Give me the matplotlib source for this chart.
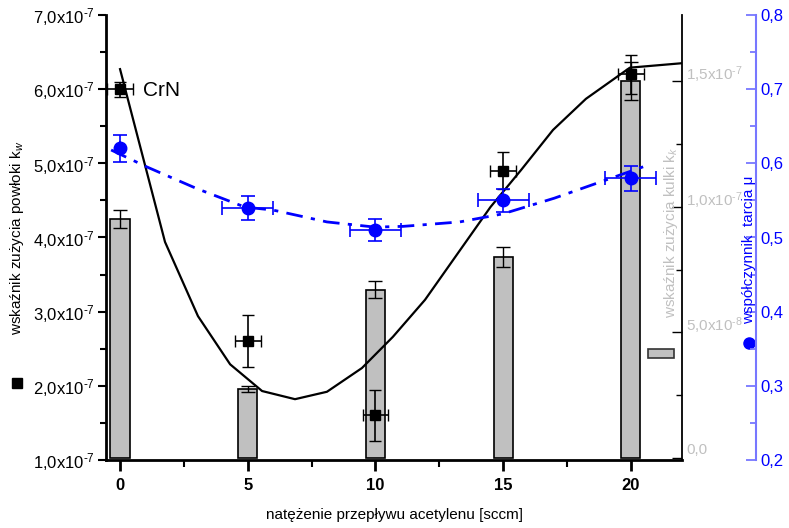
import matplotlib
matplotlib.use("Agg")
import matplotlib.pyplot as plt
from matplotlib.lines import Line2D
from matplotlib.patches import Rectangle
from matplotlib.transforms import ScaledTranslation

plt.rcParams['font.family'] = ['Liberation Sans', 'DejaVu Sans']
plt.rcParams['mathtext.fontset'] = 'custom'
plt.rcParams['mathtext.rm'] = 'Liberation Sans'
plt.rcParams['mathtext.it'] = 'Liberation Sans:italic'

# measured data
flow = [0, 5, 10, 15, 20]
flow_err = [0.5, 0.5, 0.5, 0.5, 0.5]
kw = [6.0e-7, 2.6e-7, 1.6e-7, 4.9e-7, 6.2e-7]
kw_err = [0.10e-7, 0.35e-7, 0.35e-7, 0.25e-7, 0.26e-7]
kk = [0.95e-7, 0.275e-7, 0.67e-7, 0.80e-7, 1.50e-7]
kk_err = [0.036e-7, 0.012e-7, 0.034e-7, 0.04e-7, 0.075e-7]
mu = [0.62, 0.54, 0.51, 0.55, 0.58]
mu_err = [0.018, 0.016, 0.015, 0.016, 0.017]
mu_xerr = [0, 1, 1, 1, 1]

# fitted curves
kw_fit_x = [0, 1.76, 3.05, 4.31, 5.56, 6.85, 8.10, 9.47, 10.68, 11.94, 13.23, 14.5, 15.7, 16.95, 18.24, 19.96, 22.0]
kw_fit_y = [6.27e-7, 3.94e-7, 2.94e-7, 2.29e-7, 1.93e-7, 1.82e-7, 1.92e-7, 2.24e-7, 2.66e-7, 3.16e-7,
            3.79e-7, 4.41e-7, 4.91e-7, 5.45e-7, 5.87e-7, 6.29e-7, 6.35e-7]
mu_fit_x = [-0.35, 1.06, 3.0, 4.89, 5.99, 8.10, 9.98, 11.08, 13.3, 15.0, 17.0, 19.06, 20.78]
mu_fit_y = [0.618, 0.595, 0.566, 0.541, 0.537, 0.521, 0.514, 0.515, 0.521, 0.532, 0.553, 0.578, 0.599]

left_ticks = [1e-7, 2e-7, 3e-7, 4e-7, 5e-7, 6e-7, 7e-7]
left_labels = [r'%d,0x10$^{\text{-7}}$' % i for i in range(1, 8)]
mid_ticks = [0, 5e-8, 1e-7, 1.5e-7]
mid_labels = ['0,0', r'5,0x10$^{\text{-8}}$', r'1,0x10$^{\text{-7}}$', r'1,5x10$^{\text{-7}}$']
mu_ticks = [0.2, 0.3, 0.4, 0.5, 0.6, 0.7, 0.8]
mu_labels = ['0,2', '0,3', '0,4', '0,5', '0,6', '0,7', '0,8']

W, H = 789, 528
fig = plt.figure(figsize=(W / 100, H / 100), dpi=100)
ax = fig.add_axes([106 / W, 1 - 460 / H, 576 / W, 445 / H])
ax2 = ax.twinx()
ax3 = ax.twinx()

# bars (ball wear) at the back
ax2.bar(flow, kk, width=0.75, color='#c0c0c0', edgecolor='black', linewidth=1.2, zorder=2)
ax2.errorbar(flow, kk, yerr=kk_err, fmt='none', ecolor='black', elinewidth=1, capsize=5, capthick=1, zorder=3)
ax2.set_ylim(-0.008e-7, 1.763e-7)
ax2.set_yticks(mid_ticks)
ax2.set_yticklabels(mid_labels)
ax2.set_yticks([2.5e-8, 7.5e-8, 12.5e-8], minor=True)
ax2.tick_params(axis='y', which='major', direction='in', length=7, width=1, colors='black',
                labelcolor='#c0c0c0', labelsize=11, pad=3)
ax2.tick_params(axis='y', which='minor', direction='in', length=4, width=1, colors='black')
for lab in ax2.get_yticklabels():
    lab.set_transform(lab.get_transform() + ScaledTranslation(0, 0.09, fig.dpi_scale_trans))
for s in ['top', 'left', 'bottom']:
    ax2.spines[s].set_visible(False)
ax2.spines['right'].set_linewidth(1.3)

# coating wear (left)
ax.set_zorder(ax2.get_zorder() + 1)
ax.patch.set_visible(False)
ax.plot(kw_fit_x, kw_fit_y, color='black', lw=1.6, zorder=3)
ax.errorbar(flow, kw, yerr=kw_err, xerr=flow_err, fmt='s', color='black', ms=7,
            ecolor='black', elinewidth=1.2, capsize=4, capthick=1, zorder=4)
ax.set_xlim(-0.55, 22)
ax.set_ylim(1e-7, 7e-7)
ax.set_yticks(left_ticks)
ax.set_yticklabels(left_labels)
ax.set_yticks([1.5e-7, 2.5e-7, 3.5e-7, 4.5e-7, 5.5e-7, 6.5e-7], minor=True)
ax.set_xticks([0, 5, 10, 15, 20])
ax.set_xticks([2.5, 7.5, 12.5, 17.5], minor=True)
ax.tick_params(axis='y', which='major', direction='out', length=6, width=1.5, labelsize=12, pad=2)
ax.tick_params(axis='y', which='minor', direction='out', length=4, width=1.5)
ax.tick_params(axis='x', which='major', direction='out', length=8, width=2, labelsize=12, pad=5)
ax.tick_params(axis='x', which='minor', direction='out', length=5, width=1.5)
for lab in ax.get_xticklabels():
    lab.set_fontweight('bold')
ax.spines['top'].set_visible(False)
ax.spines['right'].set_visible(False)
ax.spines['left'].set_linewidth(2)
ax.spines['bottom'].set_linewidth(2)
ax.set_xlabel('natężenie przepływu acetylenu [sccm]', fontsize=11, labelpad=11)
fig.text(143 / W, 1 - 90 / H, 'CrN', fontsize=15, va='center', ha='left')

# friction coefficient (blue, outer right)
ax3.set_zorder(ax.get_zorder() + 1)
ax3.patch.set_visible(False)
ax3.plot(mu_fit_x, mu_fit_y, color='#0000ff', lw=2, linestyle=(0, (6, 3, 1.5, 3)), zorder=3)
ax3.errorbar(flow, mu, yerr=mu_err, xerr=mu_xerr, fmt='o', color='#0000ff', ms=9,
             ecolor='#0000ff', elinewidth=1.2, capsize=5, capthick=1.2, zorder=4)
ax3.set_ylim(0.2, 0.8)
ax3.set_yticks(mu_ticks)
ax3.set_yticklabels(mu_labels)
ax3.set_yticks([0.25, 0.35, 0.45, 0.55, 0.65, 0.75], minor=True)
ax3.spines['right'].set_position(('axes', (756 - 106) / 576))
ax3.spines['right'].set_color('#7777ff')
ax3.spines['right'].set_linewidth(1.5)
for s in ['top', 'left', 'bottom']:
    ax3.spines[s].set_visible(False)
ax3.tick_params(axis='y', which='major', direction='in', length=7, width=1.3, colors='#7777ff',
                labelcolor='#0000ff', labelsize=12, pad=3)
ax3.tick_params(axis='y', which='minor', direction='in', length=4, width=1.3, colors='#7777ff')

# axis titles with their symbols
fig.text(17 / W, 1 - 238 / H, 'wskaźnik zużycia powłoki k$_w$', rotation=90, ha='center', va='center', fontsize=11)
fig.add_artist(Line2D([17 / W], [1 - 383 / H], marker='s', color='black', ms=7, transform=fig.transFigure))
fig.text(671 / W, 1 - 232 / H, 'wskaźnik zużycia kulki k$_k$', rotation=90, ha='center', va='center',
         fontsize=11, color='#c0c0c0')
fig.add_artist(Rectangle((648 / W, 1 - 358 / H), 26 / W, 9 / H, transform=fig.transFigure,
                         facecolor='#c0c0c0', edgecolor='#333333', lw=1.2))
fig.text(749 / W, 1 - 250 / H, 'współczynnik  tarcia μ', rotation=90, ha='center', va='center',
         fontsize=11, color='#0000ff')
fig.add_artist(Line2D([749 / W], [1 - 343 / H], marker='o', color='#0000ff', ms=8, transform=fig.transFigure))

fig.savefig('out.png', dpi=100)
